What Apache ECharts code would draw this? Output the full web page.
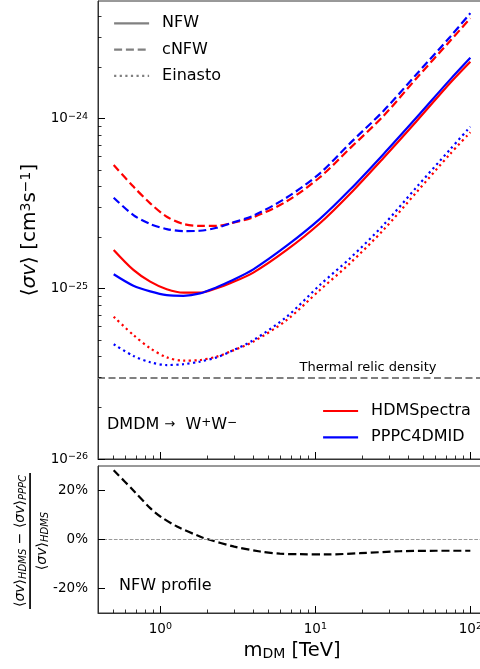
<!DOCTYPE html>
<html><head><meta charset="utf-8">
<script src="https://cdn.jsdelivr.net/npm/echarts@6/dist/echarts.min.js"></script>
<style>html,body{margin:0;padding:0;background:#fff}#c{width:480px;height:669px}</style>
</head><body><div id="c"></div>
<script>
// ---- data, <sigma v> in cm^3 s^-1, masses in TeV ----
const masses = [0.5, 0.67, 0.86, 1.1, 1.41, 1.8, 2.31, 2.82, 3.98, 6.54, 10.7, 16.7, 27.5, 45.1, 74, 100];
const hdmsNFW     = [1.696e-25,1.294e-25,1.104e-25,0.996e-25,0.951e-25,0.951e-25,1.009e-25,1.080e-25,1.248e-25,1.696e-25,2.435e-25,3.62e-25,5.90e-25,9.73e-25,16.28e-25,21.73e-25];
const pppcNFW     = [1.221e-25,1.045e-25,0.968e-25,0.920e-25,0.912e-25,0.942e-25,1.024e-25,1.110e-25,1.305e-25,1.796e-25,2.583e-25,3.83e-25,6.21e-25,10.23e-25,17.03e-25,22.9e-25];
const hdmsCNFW    = [5.36e-25,4.00e-25,3.19e-25,2.66e-25,2.41e-25,2.35e-25,2.35e-25,2.43e-25,2.64e-25,3.28e-25,4.54e-25,6.71e-25,10.41e-25,17.42e-25,28.76e-25,39.1e-25];
const pppcCNFW    = [3.44e-25,2.72e-25,2.41e-25,2.25e-25,2.19e-25,2.20e-25,2.29e-25,2.43e-25,2.70e-25,3.45e-25,4.79e-25,7.18e-25,11.15e-25,18.40e-25,30.37e-25,41.9e-25];
const hdmsEinasto = [0.687e-25,0.536e-25,0.448e-25,0.396e-25,0.379e-25,0.382e-25,0.400e-25,0.428e-25,0.490e-25,0.657e-25,0.986e-25,1.413e-25,2.224e-25,3.72e-25,6.22e-25,8.35e-25];
const pppcEinasto = [0.473e-25,0.404e-25,0.371e-25,0.357e-25,0.361e-25,0.374e-25,0.396e-25,0.428e-25,0.500e-25,0.687e-25,1.056e-25,1.512e-25,2.379e-25,3.98e-25,6.62e-25,9.01e-25];
const thermalRelic = 3e-26;

const ratioMasses = [0.5, 0.67, 0.86, 1.0, 1.28, 1.8, 2.0, 3.0, 4.4, 5.9, 8.0, 11.9, 19.4, 35, 60, 100];
const ratioNFW    = [28.3, 20.0, 12.8, 9.4, 5.3, 1.2, 0.2, -2.9, -4.9, -5.8, -6.0, -6.1, -5.6, -4.8, -4.6, -4.6];

const xMajorTicks = [1, 10, 100];
const xMinorTicks = [0.4,0.5,0.6,0.7,0.8,0.9,2,3,4,5,6,7,8,9,20,30,40,50,60,70,80,90];
const yMajorTicks = [1e-26, 1e-25, 1e-24];
const yMinorTicks = [2e-26,3e-26,4e-26,5e-26,6e-26,7e-26,8e-26,9e-26,2e-25,3e-25,4e-25,5e-25,6e-25,7e-25,8e-25,9e-25,2e-24,3e-24,4e-24];
const ratioTicks = [-20, 0, 20];

// ---- layout / style ----
// y values are handed to the log axis in units of 1e-25 cm^3/s (ECharts rounds tiny extents to 0)
const Y_UNIT = 1e-25, Y_UNIT_EXP = -25;
const u = v => +(v / Y_UNIT).toPrecision(12);
const X_MIN = 0.396, X_MAX = 130, Y_MIN = 1e-26, Y_MAX = 4.94e-24;
const G0 = {left: 98, top: 1, width: 390, height: 458};
const G1 = {left: 98, top: 466, width: 390, height: 147};
const FONT = 'DejaVu Sans';
const RED = '#ff0000', BLUE = '#0000ff', GRAY = '#808080', SPINE = '#333';
const DASH = [8, 3.8], DOT = [2.2, 3.4];
const LW = 2.2, MAJ = 7, MIN = 3.5;

const supRich = {
  b: {fontSize: 13.5, lineHeight: 14, fontFamily: FONT, color: '#000'},
  s: {fontSize: 9.5, lineHeight: 10, padding: [0,0,7,0], verticalAlign: 'top', fontFamily: FONT, color: '#000'}
};
const supText = e => '{b|10}{s|' + String(e).replace('-', '\u2212') + '}';

function xAxis(grid, labels) {
  return {gridIndex: grid, type: 'log', logBase: 10, min: X_MIN, max: X_MAX, position: 'bottom', splitLine: {show: false},
    axisLine: {show: true, onZero: false, lineStyle: {color: SPINE, width: 1}},
    axisTick: {show: false},
    axisLabel: labels ? {show: true, customValues: xMajorTicks, margin: 9, rich: supRich,
      formatter: v => supText(Math.round(Math.log10(v)))} : {show: false}};
}

const mk = (xs, ys) => xs.map((x, i) => [x, ys[i]]);
const mkY = (xs, ys) => xs.map((x, i) => [x, u(ys[i])]);
function curve(name, ys, color, type) {
  return {name: name, type: 'line', xAxisIndex: 0, yAxisIndex: 0, data: mkY(masses, ys), showSymbol: false, symbol: 'none',
    smooth: 0.3, lineStyle: {color: color, width: LW, type: type, cap: 'butt'}, itemStyle: {color: color},
    silent: true, z: 3};
}
function dummy(name, type) {
  return {name: name, type: 'line', xAxisIndex: 0, yAxisIndex: 0, data: [], symbol: 'none',
    lineStyle: {color: GRAY, width: LW, type: type}, itemStyle: {color: GRAY}};
}
const baseRich = (fs, sub) => ({
  n: {fontSize: fs, fontFamily: FONT, fill: '#000', lineHeight: fs + 2},
  i: {fontSize: fs, fontFamily: FONT, fontStyle: 'italic', fill: '#000', lineHeight: fs + 2},
  sub: {fontSize: sub, fontFamily: FONT, fontStyle: 'italic', fill: '#000', verticalAlign: 'bottom', lineHeight: sub},
  subr: {fontSize: sub, fontFamily: FONT, fill: '#000', verticalAlign: 'bottom', lineHeight: sub},
  s: {fontSize: sub, fontFamily: FONT, fill: '#000', verticalAlign: 'top', lineHeight: sub}
});

const chart = echarts.init(document.getElementById('c'), null, {renderer: 'canvas'});
chart.setOption({
  animation: false,
  backgroundColor: '#fff',
  textStyle: {fontFamily: FONT, color: '#000'},
  grid: [
    Object.assign({show: true, borderColor: SPINE, borderWidth: 1, backgroundColor: 'transparent', containLabel: false, outerBoundsMode: 'none'}, G0),
    Object.assign({show: true, borderColor: SPINE, borderWidth: 1, backgroundColor: 'transparent', containLabel: false, outerBoundsMode: 'none'}, G1)
  ],
  xAxis: [xAxis(0, false), xAxis(1, true)],
  yAxis: [
    {gridIndex: 0, type: 'log', logBase: 10, min: u(Y_MIN), max: u(Y_MAX), position: 'left',
      axisLine: {show: true, onZero: false, lineStyle: {color: SPINE, width: 1}}, splitLine: {show: false},
      axisTick: {show: false},
      axisLabel: {show: true, customValues: yMajorTicks.map(u), margin: 10, rich: supRich, align: 'right',
        formatter: v => supText(Math.round(Math.log10(v)) + Y_UNIT_EXP)}},
    {gridIndex: 1, type: 'value', min: -30, max: 30, position: 'left',
      axisLine: {show: true, onZero: false, lineStyle: {color: SPINE, width: 1}}, splitLine: {show: false},
      axisTick: {show: false},
      axisLabel: {show: true, customValues: ratioTicks, margin: 10, fontSize: 13.5, color: '#000', fontFamily: FONT,
        formatter: v => v + '%'}}
  ],
  legend: [
    {data: ['NFW', 'cNFW', 'Einasto'], orient: 'vertical', left: 113, top: 15.3, padding: 0,
      itemWidth: 35, itemHeight: 14, itemGap: 10.3, selectedMode: false,
      itemStyle: {opacity: 0}, lineStyle: {width: LW},
      textStyle: {fontSize: 16, color: '#000', fontFamily: FONT, padding: [0, 0, 0, 8]}},
    {data: ['HDMSpectra', 'PPPC4DMID'], orient: 'vertical', left: 322, top: 403, padding: 0,
      itemWidth: 35, itemHeight: 14, itemGap: 10.3, selectedMode: false,
      itemStyle: {opacity: 0}, lineStyle: {width: LW},
      textStyle: {fontSize: 16, color: '#000', fontFamily: FONT, padding: [0, 0, 0, 8]}}
  ],
  series: [
    curve('HDMSpectra', hdmsNFW, RED, 'solid'),
    curve('PPPC4DMID', pppcNFW, BLUE, 'solid'),
    curve('HDMSpectra', hdmsCNFW, RED, DASH),
    curve('PPPC4DMID', pppcCNFW, BLUE, DASH),
    curve('HDMSpectra', hdmsEinasto, RED, DOT),
    curve('PPPC4DMID', pppcEinasto, BLUE, DOT),
    dummy('NFW', 'solid'), dummy('cNFW', DASH), dummy('Einasto', DOT),
    {name: 'thermal', type: 'line', xAxisIndex: 0, yAxisIndex: 0, data: [], silent: true,
      markLine: {silent: true, symbol: 'none', label: {show: false}, animation: false,
        lineStyle: {color: GRAY, width: 2, type: [7, 3.5]}, emphasis: {disabled: true},
        data: [{yAxis: u(thermalRelic)}]}},
    {name: 'ratio', type: 'line', xAxisIndex: 1, yAxisIndex: 1, data: mk(ratioMasses, ratioNFW),
      symbol: 'none', smooth: 0.3, silent: true, z: 3,
      lineStyle: {color: '#000', width: LW, type: DASH},
      markLine: {silent: true, symbol: 'none', label: {show: false}, animation: false,
        lineStyle: {color: '#999', width: 1, type: [3.7, 1.6]}, emphasis: {disabled: true},
        data: [{yAxis: 0}]}}
  ]
});

// ---- inward tick marks (major/minor, matplotlib style) placed through the axes' own scales ----
const ticks = [];
const tick = (x1, y1, x2, y2, w) => ticks.push({type: 'line', silent: true, z: 50,
  shape: {x1: x1, y1: y1, x2: x2, y2: y2}, style: {stroke: '#000', lineWidth: w}});
const crisp = p => Math.round(p - 0.5) + 0.5;
[[0, G0], [1, G1]].forEach(([ai, g]) => {
  const yb = g.top + g.height;
  xMajorTicks.forEach(m => { const p = crisp(chart.convertToPixel({xAxisIndex: ai}, m)); tick(p, yb, p, yb - MAJ, 1); });
  xMinorTicks.forEach(m => { const p = crisp(chart.convertToPixel({xAxisIndex: ai}, m)); if (p > g.left + 1.5) tick(p, yb, p, yb - MIN, 0.8); });
});
yMajorTicks.forEach(v => { const p = crisp(chart.convertToPixel({yAxisIndex: 0}, u(v))); tick(G0.left, p, G0.left + MAJ, p, 1); });
yMinorTicks.forEach(v => { const p = crisp(chart.convertToPixel({yAxisIndex: 0}, u(v))); tick(G0.left, p, G0.left + MIN, p, 0.8); });
ratioTicks.forEach(v => { const p = crisp(chart.convertToPixel({yAxisIndex: 1}, v)); tick(G1.left, p, G1.left + MAJ, p, 1); });

chart.setOption({graphic: ticks.concat([
  {type: 'text', x: 30, y: 230, rotation: Math.PI / 2, silent: true,
    style: {text: '{n|\u27e8}{i|\u03c3v}{n|\u27e9 [cm}{s|3}{n|s}{s|\u22121}{n|]}', align: 'center', verticalAlign: 'middle',
      rich: Object.assign(baseRich(20, 14), {s: {fontSize: 14, fontFamily: FONT, fill: '#000', verticalAlign: 'top', lineHeight: 14}})}},
  {type: 'text', x: 292, y: 651, silent: true,
    style: {text: '{n|m}{subr|DM}{n| [TeV]}', align: 'center', verticalAlign: 'middle', rich: baseRich(19.5, 14)}},
  {type: 'text', x: 20, y: 541, rotation: Math.PI / 2, silent: true,
    style: {text: '{n|\u27e8}{i|\u03c3v}{n|\u27e9}{sub|HDMS}{n| \u2212 \u27e8}{i|\u03c3v}{n|\u27e9}{sub|PPPC}', align: 'center', verticalAlign: 'middle',
      rich: baseRich(14, 10)}},
  {type: 'rect', silent: true, shape: {x: 29.2, y: 473, width: 1.7, height: 136}, style: {fill: '#000'}},
  {type: 'text', x: 42, y: 541, rotation: Math.PI / 2, silent: true,
    style: {text: '{n|\u27e8}{i|\u03c3v}{n|\u27e9}{sub|HDMS}', align: 'center', verticalAlign: 'middle', rich: baseRich(14, 10)}},
  {type: 'text', x: 107, y: 425, silent: true,
    style: {text: '{t|DMDM }{a|\u2192}{t|  W}{s|+}{t|W}{s|\u2212}', align: 'left', verticalAlign: 'middle',
      rich: {t: {fontSize: 16, fontFamily: FONT, fill: '#000', lineHeight: 16},
             a: {fontSize: 13, fontFamily: FONT, fill: '#000', lineHeight: 16},
             s: {fontSize: 12, fontFamily: FONT, fill: '#000', verticalAlign: 'top', lineHeight: 12, padding: [0, 0, 12, 0]}}}},
  {type: 'text', x: 368, y: 368, silent: true,
    style: {text: 'Thermal relic density', align: 'center', verticalAlign: 'middle', fontSize: 13, fontFamily: FONT, fill: '#000'}},
  {type: 'text', x: 119, y: 586, silent: true,
    style: {text: 'NFW profile', align: 'left', verticalAlign: 'middle', fontSize: 16, fontFamily: FONT, fill: '#000'}}
])});
</script></body></html>
